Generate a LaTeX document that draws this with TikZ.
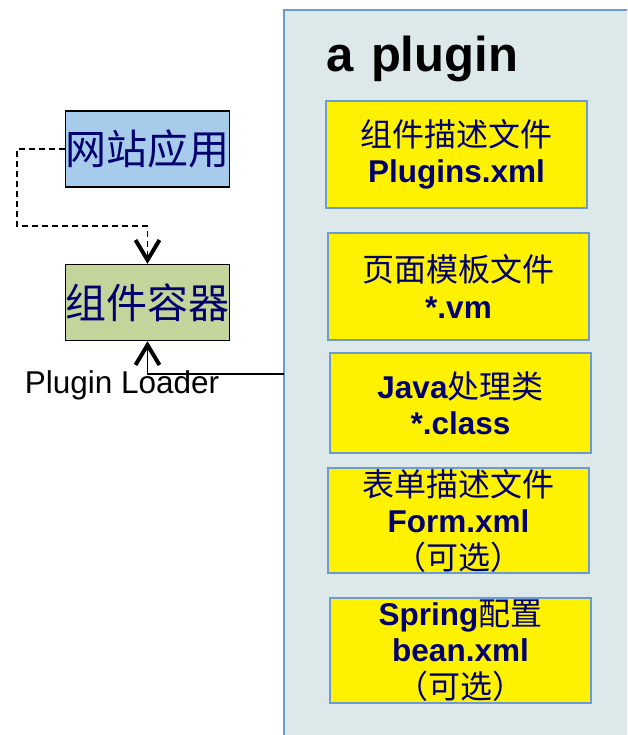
\documentclass[tikz,border=0pt]{standalone}
\usepackage{fontspec}
\setmainfont{Liberation Sans}
\newfontfamily\cjk{Noto Sans CJK SC}
\usetikzlibrary{arrows.meta}
\usepackage{xcolor}
\definecolor{navy}{HTML}{00006E}
\definecolor{panelfill}{HTML}{DDE8EA}
\definecolor{paneledge}{HTML}{6C9BD0}
\definecolor{webfill}{HTML}{A6CBEB}
\definecolor{contfill}{HTML}{C4D59B}

\begin{document}
\begin{tikzpicture}[x=1pt, y=-1pt]
			\tikzstyle{part} = [draw=paneledge, fill=yellow, line width=1.5pt, text=navy, minimum width=261pt, inner sep=0pt, align=center, font=\fontsize{31.5}{36.5}\selectfont\bfseries]
			\tikzstyle{app} = [draw=black, line width=1.2pt, text=navy, minimum width=163pt, minimum height=76pt, inner sep=0pt, font=\cjk\fontsize{41}{41}\selectfont]
			\tikzstyle{link} = [-{Straight Barb[length=20pt, width=24pt, line width=4pt]}]
			\newcommand{\zh}[1]{{\cjk\mdseries\fontsize{32}{36.5}\selectfont #1}}

			\clip (0,0) rectangle (627,735);

			% the plugin panel
			\fill[panelfill, draw=paneledge, line width=1.5pt] (284,10) rectangle (660,760);
			\node[anchor=base west, inner sep=0pt, font=\fontsize{49}{49}\selectfont\bfseries] at (326,72) (title) {a\hspace{4pt} plugin};

			\node[part, minimum height=107pt] 	at (456.5,154.5) 	(p1) 	{\zh{组件描述文件}\\Plugins.xml};
			\node[part, minimum height=107pt] 	at (458.5,286.5) 	(p2) 	{\zh{页面模板文件}\\*.vm};
			\node[part, minimum height=100pt] 	at (460.5,403) 		(p3) 	{Java\zh{处理类}\\*.class};
			\node[part, minimum height=105pt] 	at (458.5,520.5) 	(p4) 	{\zh{表单描述文件}\\Form.xml\\\zh{（可选）}};
			\node[part, minimum height=105pt] 	at (460.5,650.5) 	(p5) 	{Spring\zh{配置}\\bean.xml\\\zh{（可选）}};

			% website and container
			\node[app, fill=webfill] 	at (147.5,149) 	(web) 	{网站应用};
			\node[app, fill=contfill] 	at (147.5,302.5) 	(cont) 	{组件容器};
			\node[font=\fontsize{31.5}{31.5}\selectfont] at (122,385) (loader) {Plugin Loader};

			\coordinate (bend) at (17,226);
			\coordinate (load) at (284,374);

			\draw[line width=1.2pt, dash pattern=on 6pt off 4pt, link] (web.west) -| (bend) -| (cont.north);
			\draw[line width=1.5pt, link] (load) -| (cont.south);
		\end{tikzpicture}
\end{document}
